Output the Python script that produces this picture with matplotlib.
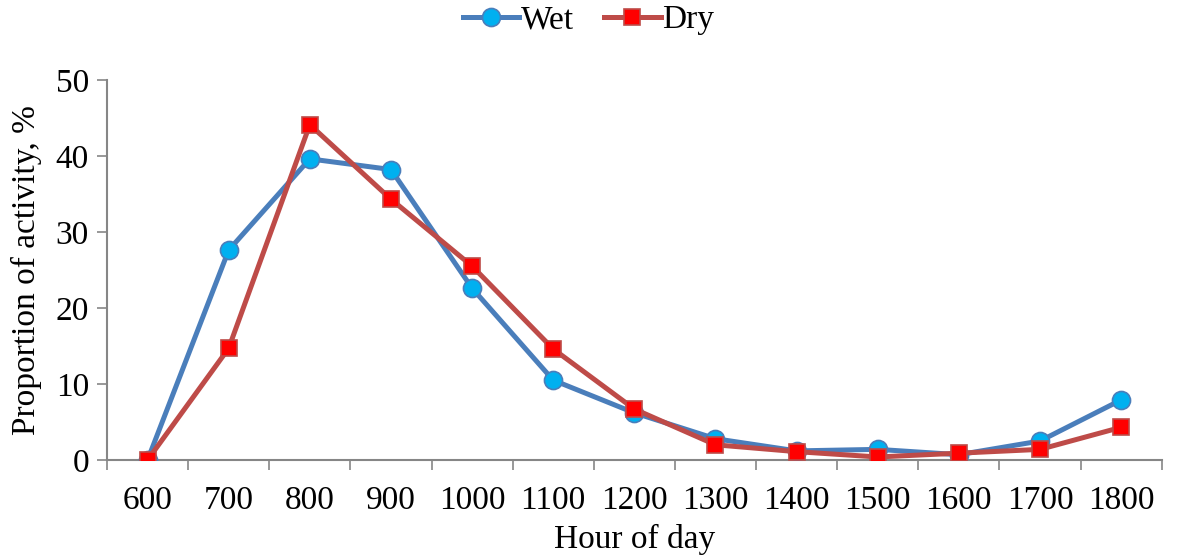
import matplotlib
matplotlib.use('Agg')
import matplotlib.pyplot as plt
import numpy as np

# hourly activity, percent of observations
hours = ['600', '700', '800', '900', '1000', '1100', '1200',
         '1300', '1400', '1500', '1600', '1700', '1800']
wet = [0.0, 27.6, 39.6, 38.2, 22.6, 10.5, 6.2, 2.8, 1.2, 1.4, 0.7, 2.5, 7.9]
dry = [0.0, 14.7, 44.1, 34.3, 25.5, 14.6, 6.7, 2.0, 1.1, 0.4, 0.9, 1.4, 4.3]
y_ticks = [0, 10, 20, 30, 40, 50]

plt.rcParams['font.family'] = ['Liberation Serif', 'DejaVu Serif']

fig = plt.figure(figsize=(11.77, 5.58), dpi=100)
ax = fig.add_axes([0.0909, 0.1756, 0.8961, 0.6814])

x = np.arange(len(hours))
ax.plot(x, wet, color='#4a7ebb', lw=3.6, marker='o', ms=13,
        mfc='#00b0f0', mec='#4a7ebb', mew=1.2, label='Wet', zorder=3)
ax.plot(x, dry, color='#be4b48', lw=3.6, marker='s', ms=12,
        mfc='#ff0000', mec='#be4b48', mew=1.2, label='Dry', zorder=4)

ax.set_xlim(-0.5, len(hours) - 0.5)
ax.set_ylim(0, 50)
ax.set_yticks(y_ticks)
ax.set_xticks(x)
ax.set_xticklabels(hours)
# category boundary ticks
ax.set_xticks(np.arange(-0.5, len(hours)), minor=True)
ax.tick_params(axis='x', which='major', length=0, pad=18, labelsize=24)
ax.tick_params(axis='x', which='minor', length=7, width=1.2, color='#868686', direction='out')
ax.tick_params(axis='y', length=7, width=1.2, color='#868686', labelsize=24, pad=6)

for side in ['top', 'right']:
    ax.spines[side].set_visible(False)
for side in ['left', 'bottom']:
    ax.spines[side].set_color('#868686')
    ax.spines[side].set_linewidth(1.5)

ax.set_xlabel('Hour of day', fontsize=24, labelpad=6)
ax.set_ylabel('Proportion of activity, %', fontsize=24, labelpad=10)

fig.legend(loc='upper center', bbox_to_anchor=(0.5, 1.045), ncol=2, frameon=False,
           fontsize=24, handlelength=1.7, handletextpad=0.05, columnspacing=0.9)

fig.savefig('out.png', dpi=100)
